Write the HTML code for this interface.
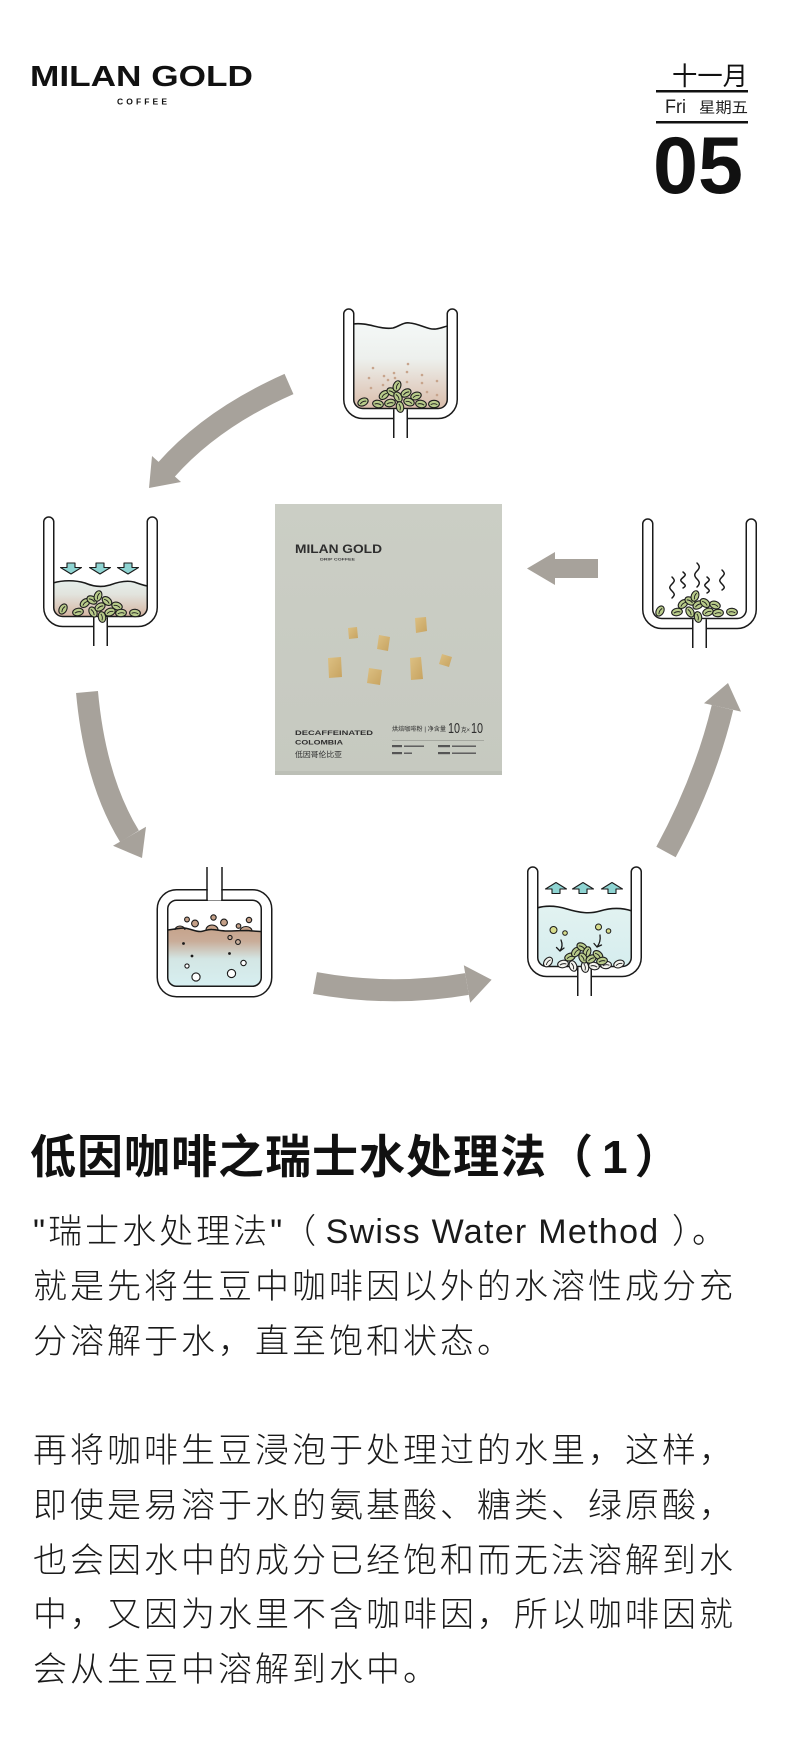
<!DOCTYPE html>
<html>
<head>
<meta charset="utf-8">
<style>
  html,body{margin:0;padding:0;background:#fff;}
  body{width:800px;height:1743px;position:relative;overflow:hidden;}
  svg{position:absolute;left:0;top:0;}
  .title{position:absolute;left:30px;top:1134px;font-family:"Liberation Sans","Noto Sans CJK SC",sans-serif;font-size:46px;line-height:46px;font-weight:700;letter-spacing:1px;color:#111;white-space:nowrap;}
  .title .n{margin:0 6px 0 8px;}
  .body{position:absolute;left:33px;top:1205px;font-family:"Liberation Sans","Noto Sans CJK SC",sans-serif;font-size:34px;line-height:54.75px;font-weight:300;letter-spacing:3px;color:#1a1a1a;white-space:nowrap;}
  .body .lat{letter-spacing:1.3px;}
  .body .t{letter-spacing:0;}
</style>
</head>
<body>
<svg width="800" height="1100" viewBox="0 0 800 1100" xmlns="http://www.w3.org/2000/svg">
  <defs>
    <g id="cup">
      <path d="M5.75,6 V91.5 A14,14 0 0 0 19.75,105.5 H95.25 A14,14 0 0 0 109.25,91.5 V6" fill="none" stroke="#1a1a1a" stroke-width="11.5" stroke-linecap="round"/>
      <path d="M5.75,6 V91.5 A14,14 0 0 0 19.75,105.5 H95.25 A14,14 0 0 0 109.25,91.5 V6" fill="none" stroke="#ffffff" stroke-width="8.5" stroke-linecap="round"/>
      <rect x="51" y="101.3" width="13" height="30" fill="#fff"/>
      <line x1="50.75" y1="101.2" x2="50.75" y2="130" stroke="#1a1a1a" stroke-width="1.5"/>
      <line x1="64.25" y1="101.2" x2="64.25" y2="130" stroke="#1a1a1a" stroke-width="1.5"/>
    </g>
    <g id="b">
      <ellipse cx="0" cy="0" rx="5.4" ry="3.7" fill="#b8cb8a" stroke="#1e1e1e" stroke-width="1.1"/>
      <path d="M-3.3,0.6 Q0,-1.2 3.3,0.6" fill="none" stroke="#1e1e1e" stroke-width="0.9"/>
    </g>
    <g id="w">
      <ellipse cx="0" cy="0" rx="5.4" ry="3.7" fill="#f4f4ef" stroke="#1e1e1e" stroke-width="1.1"/>
      <path d="M-3.3,0.6 Q0,-1.2 3.3,0.6" fill="none" stroke="#1e1e1e" stroke-width="0.9"/>
    </g>
    <linearGradient id="g1" x1="0" y1="323" x2="0" y2="412" gradientUnits="userSpaceOnUse">
      <stop offset="0" stop-color="#f4f8f7"/>
      <stop offset="0.4" stop-color="#edf0ed"/>
      <stop offset="1" stop-color="#d9b9a6"/>
    </linearGradient>
    <linearGradient id="g2" x1="0" y1="580" x2="0" y2="620" gradientUnits="userSpaceOnUse">
      <stop offset="0" stop-color="#e6efeb"/>
      <stop offset="0.35" stop-color="#e2e4de"/>
      <stop offset="1" stop-color="#d4ad98"/>
    </linearGradient>
    <linearGradient id="g3" x1="0" y1="926" x2="0" y2="986" gradientUnits="userSpaceOnUse">
      <stop offset="0" stop-color="#c5a28a"/>
      <stop offset="0.25" stop-color="#c9ac98"/>
      <stop offset="0.55" stop-color="#d3e6e4"/>
      <stop offset="1" stop-color="#d7eff1"/>
    </linearGradient>
    <linearGradient id="g4" x1="0" y1="905" x2="0" y2="970" gradientUnits="userSpaceOnUse">
      <stop offset="0" stop-color="#e2f2f1"/>
      <stop offset="1" stop-color="#d5edee"/>
    </linearGradient>
    <linearGradient id="gbox" x1="0" y1="504" x2="0" y2="775" gradientUnits="userSpaceOnUse">
      <stop offset="0" stop-color="#cbcec5"/>
      <stop offset="1" stop-color="#c6c9c0"/>
    </linearGradient>
    <linearGradient id="gold" x1="0" y1="0" x2="1" y2="1">
      <stop offset="0" stop-color="#dcc083"/>
      <stop offset="1" stop-color="#c7a360"/>
    </linearGradient>
  </defs>

  <!-- Header logo -->
  <text x="30" y="86" font-family="Liberation Sans, sans-serif" font-weight="700" font-size="29" fill="#111" textLength="223" lengthAdjust="spacingAndGlyphs">MILAN GOLD</text>
  <text x="117" y="104.5" font-family="Liberation Sans, sans-serif" font-weight="700" font-size="8.5" fill="#111" textLength="50" lengthAdjust="spacing">COFFEE</text>

  <!-- Date block -->
  <text x="672" y="85" font-family="Liberation Sans, Noto Sans CJK SC, sans-serif" font-size="25.5" fill="#111" textLength="76" lengthAdjust="spacingAndGlyphs">十一月</text>
  <rect x="656" y="90" width="92" height="2.5" fill="#111"/>
  <text x="665" y="113" font-family="Liberation Sans, sans-serif" font-size="19" fill="#222" textLength="21" lengthAdjust="spacingAndGlyphs">Fri</text>
  <text x="699" y="112.5" font-family="Liberation Sans, Noto Sans CJK SC, sans-serif" font-size="15" fill="#222" textLength="49" lengthAdjust="spacingAndGlyphs">星期五</text>
  <rect x="656" y="121" width="92" height="2.5" fill="#111"/>
  <text x="653" y="193" font-family="Liberation Sans, sans-serif" font-weight="700" font-size="81" fill="#111" textLength="90" lengthAdjust="spacingAndGlyphs">05</text>

  <!-- Grey arrows -->
  <g fill="#a7a29b" stroke="none">
    <path d="M289,384 Q212,418 166,470" fill="none" stroke="#a7a29b" stroke-width="22"/>
    <polygon points="149,488 152,456 181,482"/>
    <path d="M87,692 Q95,780 129.5,836.3" fill="none" stroke="#a7a29b" stroke-width="22"/>
    <polygon points="142,858 146,826.8 113,845.8"/>
    <path d="M315,983 Q392,997 467,984" fill="none" stroke="#a7a29b" stroke-width="22"/>
    <polygon points="491.6,979.7 470.2,1002.7 463.8,965.3"/>
    <path d="M666,852 Q705,780 722.5,707.4" fill="none" stroke="#a7a29b" stroke-width="22"/>
    <polygon points="728,683 741,711.6 704,703.2"/>
    <path d="M598,568.5 L553,568.5" fill="none" stroke="#a7a29b" stroke-width="19"/>
    <polygon points="527,568.5 555,552 555,585"/>
  </g>

  <!-- Center box -->
  <rect x="275" y="504" width="227" height="271" fill="url(#gbox)"/>
  <rect x="275" y="771" width="227" height="4" fill="#bcbfb6"/>
  <text x="295" y="553" font-family="Liberation Sans, sans-serif" font-weight="700" font-size="11.5" fill="#2e2e2e" textLength="87" lengthAdjust="spacingAndGlyphs">MILAN GOLD</text>
  <text x="320" y="560.5" font-family="Liberation Sans, sans-serif" font-weight="700" font-size="3.6" fill="#444" textLength="35" lengthAdjust="spacingAndGlyphs">DRIP COFFEE</text>
  <g fill="url(#gold)">
    <polygon points="348,628 357,627 358,638 349,639"/>
    <polygon points="379,635 390,637 388,651 377,649"/>
    <polygon points="415,618 426,617 427,631 416,633"/>
    <polygon points="328,658 341,657 342,677 329,678"/>
    <polygon points="369,668 382,670 380,685 367,683"/>
    <polygon points="410,658 421,657 423,679 411,680"/>
    <polygon points="442,654 452,657 449,667 439,664"/>
  </g>
  <text x="295" y="735" font-family="Liberation Sans, sans-serif" font-weight="700" font-size="6.2" fill="#2e2e2e" textLength="78" lengthAdjust="spacingAndGlyphs">DECAFFEINATED</text>
  <text x="295" y="744.5" font-family="Liberation Sans, sans-serif" font-weight="700" font-size="6.2" fill="#2e2e2e" textLength="48" lengthAdjust="spacingAndGlyphs">COLOMBIA</text>
  <text x="295" y="757" font-family="Liberation Sans, Noto Sans CJK SC, sans-serif" font-size="7.5" fill="#2e2e2e" textLength="47" lengthAdjust="spacingAndGlyphs">低因哥伦比亚</text>
  <text x="392" y="731" font-family="Liberation Sans, Noto Sans CJK SC, sans-serif" font-size="6" fill="#2e2e2e" textLength="54" lengthAdjust="spacingAndGlyphs">烘焙咖啡粉 | 净含量</text>
  <text x="448" y="733" font-family="Liberation Sans, sans-serif" font-size="15" fill="#2e2e2e" textLength="12" lengthAdjust="spacingAndGlyphs">10</text>
  <text x="461" y="732" font-family="Liberation Sans, Noto Sans CJK SC, sans-serif" font-size="6" fill="#2e2e2e" textLength="9" lengthAdjust="spacingAndGlyphs">克×</text>
  <text x="471" y="733" font-family="Liberation Sans, sans-serif" font-size="15" fill="#2e2e2e" textLength="12" lengthAdjust="spacingAndGlyphs">10</text>
  <line x1="392" y1="740.5" x2="484" y2="740.5" stroke="#9a9c95" stroke-width="0.7"/>
  <g fill="#555">
    <rect x="392" y="745" width="10" height="2.2"/><rect x="404" y="745.5" width="20" height="1.4"/>
    <rect x="438" y="745" width="12" height="2.2"/><rect x="452" y="745.5" width="24" height="1.4"/>
    <rect x="392" y="752" width="10" height="2.2"/><rect x="404" y="752.5" width="8" height="1.4"/>
    <rect x="438" y="752" width="12" height="2.2"/><rect x="452" y="752.5" width="24" height="1.4"/>
  </g>

  <!-- Beaker 1 (top) -->
  <path d="M353,324 C368,322 380,330 393,328 C400,326 403,322 410,323 C420,324 428,330 436,329 C442,328 446,326 448,326 L448,412 L353,412 Z" fill="url(#g1)"/>
  <path d="M353,324 C368,322 380,330 393,328 C400,326 403,322 410,323 C420,324 428,330 436,329 C442,328 446,326 448,326" fill="none" stroke="#1a1a1a" stroke-width="1.6"/>
  <g fill="#c7a48c">
    <circle cx="373" cy="368" r="1.3"/><circle cx="369" cy="378" r="1.3"/><circle cx="384" cy="376" r="1.3"/>
    <circle cx="388" cy="380" r="1.3"/><circle cx="395" cy="378" r="1.3"/><circle cx="394" cy="373" r="1.3"/>
    <circle cx="407" cy="372" r="1.3"/><circle cx="408" cy="364" r="1.3"/><circle cx="422" cy="375" r="1.3"/>
    <circle cx="437" cy="381" r="1.3"/><circle cx="422" cy="383" r="1.3"/><circle cx="427" cy="392" r="1.3"/>
    <circle cx="437" cy="395" r="1.3"/><circle cx="371" cy="388" r="1.3"/><circle cx="383" cy="385" r="1.3"/>
    <circle cx="407" cy="382" r="1.3"/>
  </g>
  <use href="#cup" transform="translate(343,308)"/>
  <use href="#b" transform="translate(363,402) rotate(-25)"/>
  <use href="#b" transform="translate(378,404) rotate(10)"/>
  <use href="#b" transform="translate(384,395) rotate(-40)"/>
  <use href="#b" transform="translate(392,392) rotate(30)"/>
  <use href="#b" transform="translate(397,386) rotate(-70)"/>
  <use href="#b" transform="translate(390,403) rotate(-10)"/>
  <use href="#b" transform="translate(398,397) rotate(60)"/>
  <use href="#b" transform="translate(400,407) rotate(80)"/>
  <use href="#b" transform="translate(406,393) rotate(-30)"/>
  <use href="#b" transform="translate(409,402) rotate(20)"/>
  <use href="#b" transform="translate(416,396) rotate(-20)"/>
  <use href="#b" transform="translate(421,404) rotate(10)"/>
  <use href="#b" transform="translate(434,404) rotate(0)"/>

  <!-- Beaker 2 (left) -->
  <path d="M53,583 C63,580 75,580 85,583 C92,586 100,588 110,585 C118,582 126,580 134,582 C140,584 145,586 148,586 L148,620 L53,620 Z" fill="url(#g2)"/>
  <path d="M53,583 C63,580 75,580 85,583 C92,586 100,588 110,585 C118,582 126,580 134,582 C140,584 145,586 148,586" fill="none" stroke="#1a1a1a" stroke-width="1.6"/>
  <g fill="#8ed4d2" stroke="#1a1a1a" stroke-width="1.1" stroke-linejoin="round">
    <polygon points="67,563 75,563 75,567.5 81.5,567.5 71,574 60.5,567.5 67,567.5"/>
    <polygon points="96,563 104,563 104,567.5 110.5,567.5 100,574 89.5,567.5 96,567.5"/>
    <polygon points="124,563 132,563 132,567.5 138.5,567.5 128,574 117.5,567.5 124,567.5"/>
  </g>
  <use href="#cup" transform="translate(43,516)"/>
  <use href="#b" transform="translate(63,609) rotate(-60)"/>
  <use href="#b" transform="translate(78,612) rotate(-10)"/>
  <use href="#b" transform="translate(85,603) rotate(-40)"/>
  <use href="#b" transform="translate(92,600) rotate(30)"/>
  <use href="#b" transform="translate(98,596) rotate(-70)"/>
  <use href="#b" transform="translate(93,612) rotate(60)"/>
  <use href="#b" transform="translate(100,607) rotate(-30)"/>
  <use href="#b" transform="translate(102,617) rotate(80)"/>
  <use href="#b" transform="translate(107,601) rotate(40)"/>
  <use href="#b" transform="translate(110,612) rotate(-20)"/>
  <use href="#b" transform="translate(117,606) rotate(20)"/>
  <use href="#b" transform="translate(121,613) rotate(-5)"/>
  <use href="#b" transform="translate(135,613) rotate(5)"/>

  <!-- Beaker 5 (right) -->
  <g fill="none" stroke="#1a1a1a" stroke-width="1.5" stroke-linecap="round">
    <path d="M672,577 c3,3 3,4 0,7 s-3,4 0,7 s3,4 0,7"/>
    <path d="M683,572 c3,2.5 3,3 0,5.5 s-3,3 0,5.5 s3,3 0,5"/>
    <path d="M697,563 c3,3 3,5 0,8 s-3,5 0,8 s3,5 0,8"/>
    <path d="M707,577 c3,2.5 3,3 0,5.5 s-3,3 0,5.5 s3,3 0,5"/>
    <path d="M722,570 c3,3 3,4 0,7 s-3,4 0,7 s3,4 0,6"/>
  </g>
  <use href="#cup" transform="translate(642,518)"/>
  <use href="#b" transform="translate(660,611) rotate(-60)"/>
  <use href="#b" transform="translate(677,612) rotate(-10)"/>
  <use href="#b" transform="translate(683,604) rotate(-40)"/>
  <use href="#b" transform="translate(690,601) rotate(30)"/>
  <use href="#b" transform="translate(695,596) rotate(-70)"/>
  <use href="#b" transform="translate(690,612) rotate(60)"/>
  <use href="#b" transform="translate(698,605) rotate(-30)"/>
  <use href="#b" transform="translate(698,617) rotate(80)"/>
  <use href="#b" transform="translate(705,603) rotate(40)"/>
  <use href="#b" transform="translate(708,612) rotate(-20)"/>
  <use href="#b" transform="translate(715,605) rotate(20)"/>
  <use href="#b" transform="translate(718,613) rotate(-5)"/>
  <use href="#b" transform="translate(732,612) rotate(5)"/>

  <!-- Beaker 3 (bottom-left, closed) -->
  <path d="M170,930 C176,929 180,928 184,928 C192,929 196,932 201,931.5 C205,931 208,929 212,929.5 C218,930 222,931 227,931 C234,931 240,930.5 247,930.5 C253,931 257,931.5 262,931.5 L262,986 L168,986 L168,930 Z" fill="url(#g3)"/>
  <g fill="#c4a088" stroke="#1a1a1a" stroke-width="1.1">
    <path d="M175,930 a5,4 0 0 1 10,0" />
    <path d="M206,930 a6,5 0 0 1 12,0" />
    <path d="M240,931 a6,4.5 0 0 1 12,0" />
  </g>
  <path d="M168,930 C176,929 180,928 184,928 C192,929 196,932 201,931.5 C205,931 208,929 212,929.5 C218,930 222,931 227,931 C234,931 240,930.5 247,930.5 C253,931 257,931.5 262,931.5" fill="none" stroke="#1a1a1a" stroke-width="1.5"/>
  <g stroke="#1a1a1a" stroke-width="1.1">
    <circle cx="187" cy="919.5" r="2.4" fill="#c4a088"/>
    <circle cx="195" cy="923.5" r="3.4" fill="#c4a088"/>
    <circle cx="213.5" cy="917.5" r="2.7" fill="#c4a088"/>
    <circle cx="224" cy="922.5" r="3.4" fill="#c4a088"/>
    <circle cx="238.5" cy="926" r="2.3" fill="#c4a088"/>
    <circle cx="249" cy="920" r="2.7" fill="#c4a088"/>
    <circle cx="230" cy="937.5" r="2.1" fill="none"/>
    <circle cx="238" cy="942" r="2.4" fill="none"/>
    <circle cx="187" cy="966" r="2.1" fill="#fff"/>
    <circle cx="196" cy="977" r="4.1" fill="#fff"/>
    <circle cx="231.5" cy="973.5" r="4.1" fill="#fff"/>
    <circle cx="243.5" cy="963" r="2.7" fill="#fff"/>
  </g>
  <g fill="#1a1a1a">
    <circle cx="183.5" cy="943.5" r="1.4"/>
    <circle cx="192" cy="956" r="1.4"/>
    <circle cx="229.5" cy="953.5" r="1.4"/>
  </g>
  <rect x="162.5" y="895" width="104" height="96.5" rx="14" ry="14" fill="none" stroke="#1a1a1a" stroke-width="12"/>
  <rect x="162.5" y="895" width="104" height="96.5" rx="14" ry="14" fill="none" stroke="#fff" stroke-width="9"/>
  <rect x="207.75" y="864" width="13.5" height="36.5" fill="#fff"/>
  <line x1="207" y1="867" x2="207" y2="901" stroke="#1a1a1a" stroke-width="1.5"/>
  <line x1="222" y1="867" x2="222" y2="901" stroke="#1a1a1a" stroke-width="1.5"/>

  <!-- Beaker 4 (bottom-right) -->
  <path d="M537,908 C547,905 557,906 567,909 C580,913 590,914 600,911 C610,908 620,907 632,911 L632,972 L537,972 Z" fill="url(#g4)"/>
  <path d="M537,908 C547,905 557,906 567,909 C580,913 590,914 600,911 C610,908 620,907 632,911" fill="none" stroke="#1a1a1a" stroke-width="1.6"/>
  <g fill="#8ed4d2" stroke="#1a1a1a" stroke-width="1.1" stroke-linejoin="round">
    <polygon points="552,893.5 560,893.5 560,889 566.5,889 556,882.5 545.5,889 552,889"/>
    <polygon points="579,893.5 587,893.5 587,889 593.5,889 583,882.5 572.5,889 579,889"/>
    <polygon points="608,893.5 616,893.5 616,889 622.5,889 612,882.5 601.5,889 608,889"/>
  </g>
  <g stroke="#1a1a1a" stroke-width="1" fill="#d6dc8c">
    <circle cx="553.5" cy="930" r="3.5"/>
    <circle cx="565" cy="933" r="2.3"/>
    <circle cx="598.5" cy="927" r="3"/>
    <circle cx="608.5" cy="931" r="2.3"/>
  </g>
  <g fill="none" stroke="#1a1a1a" stroke-width="1.3" stroke-linecap="round" stroke-linejoin="round">
    <path d="M561,940 Q563.5,946 560,951"/>
    <path d="M556.5,947.5 L560,951 L564,948"/>
    <path d="M600,935 Q601,942 597,947"/>
    <path d="M594,943.5 L597,947 L601.5,945"/>
  </g>
  <use href="#cup" transform="translate(527,866)"/>
  <use href="#w" transform="translate(548,962) rotate(-50)"/>
  <use href="#w" transform="translate(563,964) rotate(-10)"/>
  <use href="#w" transform="translate(573,966) rotate(70)"/>
  <use href="#w" transform="translate(585,967) rotate(80)"/>
  <use href="#w" transform="translate(594,966) rotate(10)"/>
  <use href="#w" transform="translate(606,965) rotate(-5)"/>
  <use href="#w" transform="translate(619,964) rotate(-20)"/>
  <use href="#b" transform="translate(570,957) rotate(-20)"/>
  <use href="#b" transform="translate(576,952) rotate(-50)"/>
  <use href="#b" transform="translate(582,947) rotate(30)"/>
  <use href="#b" transform="translate(587,952) rotate(-70)"/>
  <use href="#b" transform="translate(583,958) rotate(60)"/>
  <use href="#b" transform="translate(591,959) rotate(-30)"/>
  <use href="#b" transform="translate(598,955) rotate(40)"/>
  <use href="#b" transform="translate(602,961) rotate(-10)"/>
</svg>

<div class="title">低因咖啡之瑞士水处理法（<span class="n">1</span>）</div>
<div class="body">"瑞士水处理法<span class="t">"（ </span><span class="lat">Swiss Water Method</span> ）。<br>就是先将生豆中咖啡因以外的水溶性成分充<br>分溶解于水，直至饱和状态。<br><br>再将咖啡生豆浸泡于处理过的水里，这样，<br>即使是易溶于水的氨基酸、糖类、绿原酸，<br>也会因水中的成分已经饱和而无法溶解到水<br>中，又因为水里不含咖啡因，所以咖啡因就<br>会从生豆中溶解到水中。</div>
</body>
</html>
